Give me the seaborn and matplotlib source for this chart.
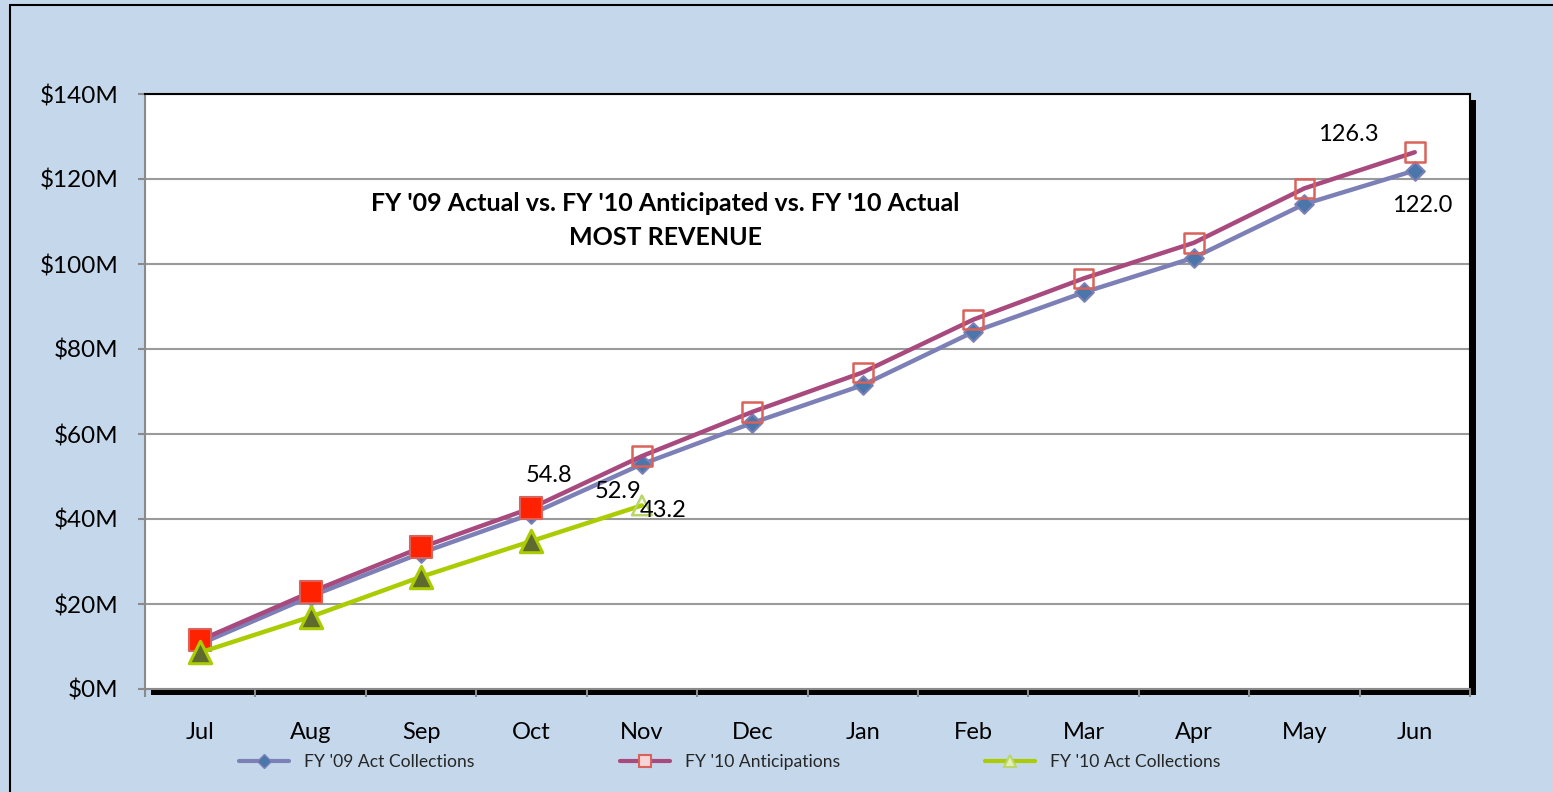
#bibliotecas
import numpy as np
import pandas as pd
import matplotlib
matplotlib.use('Agg')
import matplotlib.pyplot as plt
from matplotlib.lines import Line2D
from matplotlib.patches import Rectangle
import seaborn as sns

#dados (milhoes de dolares)
meses = ['Jul', 'Aug', 'Sep', 'Oct', 'Nov', 'Dec', 'Jan', 'Feb', 'Mar', 'Apr', 'May', 'Jun']
fy09_act = [10.6, 21.8, 32.0, 41.2, 52.9, 62.6, 71.5, 84.0, 93.3, 101.5, 114.1, 122.0]
fy10_ant = [11.5, 22.8, 33.3, 42.6, 54.8, 65.2, 74.5, 86.9, 96.6, 105.0, 117.8, 126.3]
fy10_act = [8.6, 17.0, 26.4, 34.8, 43.2]
yticks = [0, 20, 40, 60, 80, 100, 120, 140]
titulo1 = "FY '09 Actual vs. FY '10 Anticipated vs. FY '10 Actual"
titulo2 = "MOST REVENUE"
nomes = ["FY '09 Act Collections", "FY '10 Anticipations", "FY '10 Act Collections"]

#cores
bg = '#C5D8EB'
c09 = '#7C80B6'
c09_mk = '#4A76AA'
c10a = '#A84A7E'
c10a_mk = '#D9625A'
c10r = '#AACC00'
c10r_mk = '#5E6A2E'

sns.set_theme(style='white')
plt.rcParams['font.family'] = ['Lato', 'DejaVu Sans']

W, H = 1553, 792
fig = plt.figure(figsize=(W / 100, H / 100), dpi=100, facecolor=bg)
fig.patch.set_linewidth(0)
x0, x1, y0, y1 = 145, 1470, 94, 689
ax = fig.add_axes([x0 / W, 1 - y1 / H, (x1 - x0) / W, (y1 - y0) / H])
ax.set_facecolor('white')
ax.set_zorder(2)

#borda da figura (so topo e esquerda aparecem) e sombra da area do grafico
fig.patches.append(Rectangle((1520 / W, -0.05), 60 / W, 1.0, transform=fig.transFigure,
                             facecolor=bg, edgecolor='none', zorder=0))
fig.add_artist(Line2D([10 / W, 1.01], [1 - 5 / H, 1 - 5 / H], color='black', lw=1.5))
fig.add_artist(Line2D([10 / W, 10 / W], [-0.01, 1 - 5 / H], color='black', lw=1.5))
fig.patches.append(Rectangle(((x0 + 6) / W, 1 - (y1 + 6) / H), (x1 - x0) / W, (y1 - y0) / H,
                             transform=fig.transFigure, facecolor='black', edgecolor='none', zorder=1))

pos = np.arange(len(meses))
df09 = pd.DataFrame({'pos': pos, 'v': fy09_act})
df10a = pd.DataFrame({'pos': pos, 'v': fy10_ant})
df10r = pd.DataFrame({'pos': pos[:len(fy10_act)], 'v': fy10_act})

#linhas
sns.lineplot(data=df09, x='pos', y='v', color=c09, lw=3.2, ax=ax, zorder=3)
sns.lineplot(data=df10a, x='pos', y='v', color=c10a, lw=3.2, ax=ax, zorder=4)
sns.lineplot(data=df10r, x='pos', y='v', color=c10r, lw=3.2, ax=ax, zorder=5)

#marcadores
sns.scatterplot(data=df09, x='pos', y='v', marker='D', s=90, color=c09_mk, edgecolor=c09,
                linewidth=1.5, ax=ax, zorder=3.5)
cheio = df10a['pos'] <= 3
sns.scatterplot(data=df10a[cheio], x='pos', y='v', marker='s', s=230, color='#FF2200',
                edgecolor=c10a_mk, linewidth=1.5, ax=ax, zorder=4.5)
sns.scatterplot(data=df10a[~cheio], x='pos', y='v', marker='s', s=200, color='none',
                edgecolor=c10a_mk, linewidth=1.8, ax=ax, zorder=4.5)
sns.scatterplot(data=df10r.iloc[:-1], x='pos', y='v', marker='^', s=260, color=c10r_mk,
                edgecolor=c10r, linewidth=2.2, ax=ax, zorder=5.5)
sns.scatterplot(data=df10r.iloc[-1:], x='pos', y='v', marker='^', s=200, color='none',
                edgecolor='#B8D66A', linewidth=1.8, ax=ax, zorder=5.5)

#rotulos de dados (deslocamento em pontos)
rot = [(4, fy10_ant[4], -67, -14), (4, fy09_act[4], -17, -20), (4, fy10_act[4], 15, -4),
       (11, fy10_ant[11], -48, 13), (11, fy09_act[11], 5, -25)]
for xi, yi, dx, dy in rot:
    ax.annotate(f'{yi:.1f}', (xi, yi), xytext=(dx, dy), textcoords='offset points',
                ha='center', va='center', fontsize=17, color='black', zorder=10)

#titulo dentro do grafico
ax.text(4.21, 114.2, titulo1, ha='center', va='center', fontsize=18, fontweight='bold',
        color='black', zorder=10)
ax.text(4.21, 106.2, titulo2, ha='center', va='center', fontsize=18, fontweight='bold',
        color='black', zorder=10)

#eixos
ax.set_xlim(-0.5, len(meses) - 0.5)
ax.set_ylim(yticks[0], yticks[-1])
ax.set_yticks(yticks)
ax.set_yticklabels([f'${v}M' for v in yticks])
ax.set_xticks(pos)
ax.set_xticklabels(meses)
ax.set_xticks(np.arange(-0.5, len(meses)), minor=True)
ax.set_xlabel('')
ax.set_ylabel('')
ax.grid(axis='y', color='#9A9A9A', lw=1.5)
ax.grid(axis='x', visible=False)
ax.tick_params(axis='y', which='major', left=True, length=5, width=1.5, color='#8A8A8A',
               direction='out', pad=14, labelsize=17.5, labelcolor='black')
ax.tick_params(axis='x', which='major', bottom=False, length=0, pad=24, labelsize=17,
               labelcolor='black')
ax.tick_params(axis='x', which='minor', bottom=True, length=6, width=1.5, color='#8A8A8A',
               direction='out')
for s in ['left', 'bottom']:
    ax.spines[s].set_color('#8A8A8A')
    ax.spines[s].set_linewidth(1.5)
for s in ['top', 'right']:
    ax.spines[s].set_color('black')
    ax.spines[s].set_linewidth(1.5)

#legenda
hs = [Line2D([], [], color=c09, lw=3, marker='D', ms=7, mfc=c09_mk, mec=c09),
      Line2D([], [], color=c10a, lw=3, marker='s', ms=9, mfc='#F5D5D5', mec=c10a_mk, mew=1.5),
      Line2D([], [], color=c10r, lw=3, marker='^', ms=9, mfc='#E4EFB8', mec='#B8D66A', mew=1.5)]
fig.legend(hs, nomes, loc='center', bbox_to_anchor=(730 / W, 1 - 762 / H), ncol=3,
           frameon=False, fontsize=12.6, handlelength=2.86, columnspacing=8.3, handletextpad=0.86)

fig.savefig('out.png', dpi=100, facecolor=bg)
